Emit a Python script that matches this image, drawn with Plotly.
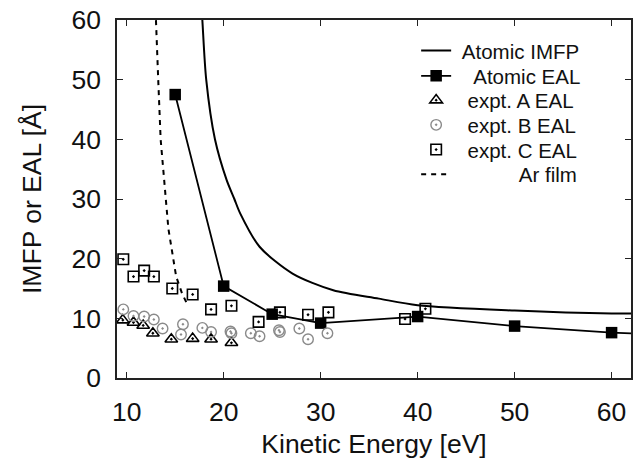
import plotly.graph_objects as go

# ---- data ----
imfp_x = [17.6, 17.8, 18.2, 19.1, 20.3, 21.1, 21.7, 23.7, 27.1, 31.3, 36.0, 40.0, 50.0, 60.0, 62.0]
imfp_y = [65.0, 60.0, 50.0, 40.0, 33.2, 30.0, 27.6, 22.0, 17.5, 14.7, 13.3, 12.2, 11.3, 10.8, 10.8]

eal_x = [15, 20, 25, 30, 40, 50, 60, 65]
eal_y = [47.5, 15.4, 10.7, 9.2, 10.3, 8.7, 7.6, 7.3]

a_x = [9.6, 10.7, 11.7, 12.7, 14.6, 16.8, 18.7, 20.8]
a_y = [9.7, 9.3, 8.8, 7.5, 6.5, 6.6, 6.5, 5.9]

b_x = [9.65, 10.7, 11.8, 12.8, 13.7, 15.8, 15.6, 17.8, 18.7, 20.7, 20.8, 22.8, 23.7, 25.7, 25.8, 27.8, 28.7, 30.7]
b_y = [11.5, 10.4, 10.3, 9.8, 8.3, 9.0, 7.3, 8.4, 7.7, 7.8, 7.5, 7.5, 7.0, 8.0, 7.7, 8.3, 6.5, 7.5]

c_x = [9.65, 10.7, 11.8, 12.8, 14.7, 16.8, 18.7, 20.8, 23.6, 25.8, 28.7, 30.8, 38.7, 40.8]
c_y = [19.9, 17.0, 18.0, 17.0, 15.0, 14.0, 11.5, 12.1, 9.4, 11.0, 10.6, 11.0, 9.9, 11.6]

ar_x = [12.9, 13.0, 13.25, 13.5, 13.9, 14.3, 15.1, 15.7, 16.2]
ar_y = [65.0, 60.0, 50.0, 40.0, 33.0, 25.0, 17.0, 14.2, 12.5]

x_ticks = [10, 20, 30, 40, 50, 60]
y_ticks = [0, 10, 20, 30, 40, 50, 60]

labels = ["Atomic IMFP", "Atomic EAL", "expt. A EAL", "expt. B EAL", "expt. C EAL", "Ar film"]
label_pad = [1, 3, 2, 2, 2, 11]          # non-breaking spaces to mimic right-aligned keys
legend_rows_px = [50.7, 76.0, 100.3, 125.0, 149.7, 174.3]

FONT = "Liberation Sans, Arial, Helvetica, sans-serif"
NB = "\u00a0"
names = [NB * p + t for p, t in zip(label_pad, labels)]
lg = ["legend", "legend2", "legend3", "legend4", "legend5", "legend6"]

fig = go.Figure()

fig.add_trace(go.Scatter(x=imfp_x, y=imfp_y, mode="lines", name=names[0], legend=lg[0],
                         line=dict(color="black", width=2, shape="spline", smoothing=0.8)))
fig.add_trace(go.Scatter(x=eal_x, y=eal_y, mode="lines+markers", name=names[1], legend=lg[1],
                         line=dict(color="black", width=1.8),
                         marker=dict(symbol="square", size=11.5, color="black",
                                     line=dict(width=0))))
fig.add_trace(go.Scatter(x=a_x, y=a_y, mode="markers", name=names[2], legend=lg[2],
                         marker=dict(symbol="triangle-up-open-dot", size=11, color="black",
                                     line=dict(width=1.6, color="black"))))
fig.add_trace(go.Scatter(x=b_x, y=b_y, mode="markers", name=names[3], legend=lg[3],
                         marker=dict(symbol="circle-open-dot", size=10.5, color="#8a8a8a",
                                     line=dict(width=1.4, color="#8a8a8a"))))
fig.add_trace(go.Scatter(x=c_x, y=c_y, mode="markers", name=names[4], legend=lg[4],
                         marker=dict(symbol="square-open-dot", size=10.5, color="black",
                                     line=dict(width=1.6, color="black"))))
fig.add_trace(go.Scatter(x=ar_x, y=ar_y, mode="lines", name=names[5], legend=lg[5],
                         line=dict(color="black", width=2, dash="5px,5px")))

axis_common = dict(showgrid=False, zeroline=False, showline=True, mirror="ticks",
                   linecolor="#222", linewidth=1.5, ticks="inside", ticklen=6,
                   tickwidth=1.3, tickcolor="#222",
                   tickfont=dict(family=FONT, size=26.5, color="#111"))

fig.update_xaxes(range=[9, 62], tickvals=x_ticks, ticklabelstandoff=9,
                 title=dict(text="Kinetic Energy [eV]", standoff=12,
                            font=dict(family=FONT, size=26.5, color="#111")),
                 **axis_common)
fig.update_yaxes(range=[0, 60], tickvals=y_ticks, ticklabelstandoff=9,
                 title=dict(text="IMFP or EAL [Å]", standoff=22,
                            font=dict(family=FONT, size=26.5, color="#111")),
                 **axis_common)

top_px, bot_px = 20, 378
legend_layout = {}
for name, py in zip(lg, legend_rows_px):
    legend_layout[name] = dict(
        x=0.582, y=(bot_px - py) / (bot_px - top_px), xanchor="left", yanchor="middle",
        bgcolor="rgba(0,0,0,0)", borderwidth=0,
        font=dict(family=FONT, size=20.5, color="#111"),
        itemwidth=30, tracegroupgap=0)

fig.update_layout(
    width=633, height=459,
    margin=dict(l=117, r=2, t=20, b=81, autoexpand=False),
    paper_bgcolor="white", plot_bgcolor="white",
    font=dict(family=FONT, color="#111"),
    showlegend=True,
    **legend_layout,
)

fig.write_html("out.html")
